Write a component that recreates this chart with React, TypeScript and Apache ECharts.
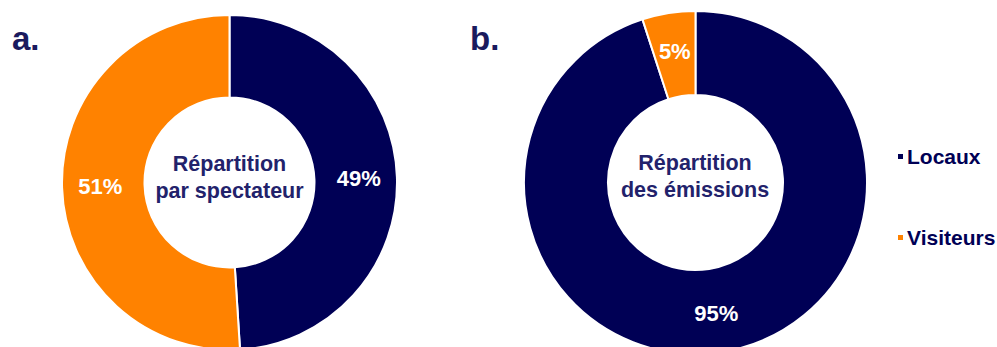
import React, { useEffect, useRef } from "react";
import * as echarts from "echarts";

const categories = ["Locaux", "Visiteurs"];
const spectatorShare = [49, 51];
const emissionShare = [95, 5];
const centerTitles = ["Répartition\npar spectateur", "Répartition\ndes émissions"];
const panelLetters = ["a.", "b."];

const NAVY = "#000055";
const ORANGE = "#FF8200";
const FONT = "'Liberation Sans', Arial, sans-serif";

export default function App() {
  const ref = useRef<HTMLDivElement>(null);
  useEffect(() => {
    if (!ref.current) return;
    const chart = echarts.init(ref.current, undefined, { renderer: "svg" });
    const mk = (vals: number[]) =>
      categories.map((name, i) => ({ name, value: vals[i] }));
    const pieBase = {
      type: "pie",
      startAngle: 90,
      clockwise: true,
      avoidLabelOverlap: false,
      itemStyle: { borderColor: "#ffffff", borderWidth: 2 },
      label: {
        show: true,
        position: "inside",
        formatter: "{c}%",
        color: "#ffffff",
        fontSize: 22,
        fontWeight: "bold",
        fontFamily: FONT,
      },
      labelLine: { show: false },
      emphasis: { disabled: true },
    };
    chart.setOption({
      animation: false,
      color: [NAVY, ORANGE],
      legend: {
        orient: "vertical",
        left: 891,
        top: 141,
        icon: "rect",
        itemWidth: 7,
        itemHeight: 7,
        itemGap: 60,
        data: categories,
        selectedMode: false,
        textStyle: {
          color: NAVY,
          fontSize: 21,
          fontWeight: "bold",
          fontFamily: FONT,
          padding: [0, 0, 0, -2],
        },
      },
      graphic: [
        {
          type: "text",
          left: 12,
          top: 22,
          style: { text: panelLetters[0], fontSize: 33, fontWeight: "bold", fill: "#1a1a5e", fontFamily: FONT },
        },
        {
          type: "text",
          left: 470,
          top: 22,
          style: { text: panelLetters[1], fontSize: 33, fontWeight: "bold", fill: "#1a1a5e", fontFamily: FONT },
        },
        {
          type: "text",
          x: 229.5,
          y: 177,
          style: {
            text: centerTitles[0],
            fontSize: 21.5,
            fontWeight: "bold",
            lineHeight: 27,
            fill: "#22226b",
            align: "center",
            verticalAlign: "middle",
            fontFamily: FONT,
          },
        },
        {
          type: "text",
          x: 695,
          y: 176,
          style: {
            text: centerTitles[1],
            fontSize: 21.5,
            fontWeight: "bold",
            lineHeight: 27,
            fill: "#22226b",
            align: "center",
            verticalAlign: "middle",
            fontFamily: FONT,
          },
        },
      ],
      series: [
        {
          ...pieBase,
          name: "Répartition par spectateur",
          center: [229.5, 182.5],
          radius: [85, 167.5],
          data: mk(spectatorShare),
        },
        {
          ...pieBase,
          name: "Répartition des émissions",
          center: [695.5, 182.5],
          radius: [87.5, 171.5],
          data: mk(emissionShare),
        },
      ],
    });
    return () => chart.dispose();
  }, []);
  return (
    <div
      ref={ref}
      style={{ position: "fixed", left: 0, top: 0, width: 997, height: 347, background: "#ffffff" }}
    />
  );
}
